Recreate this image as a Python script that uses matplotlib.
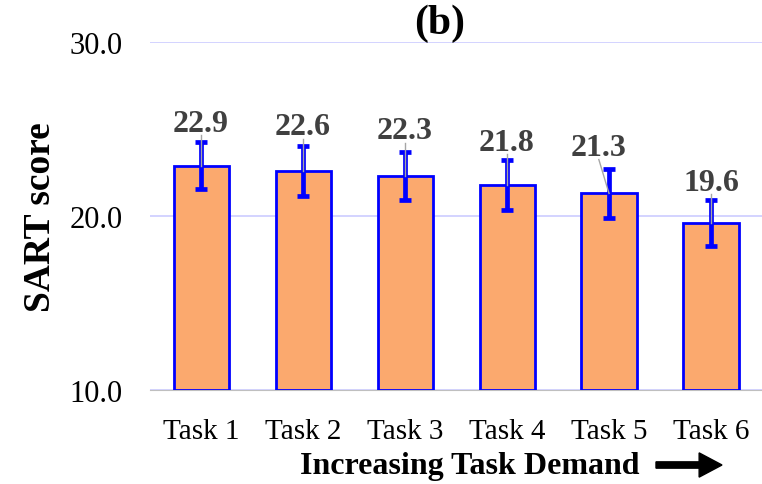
import numpy as np
import matplotlib.pyplot as plt

tasks = ["Task 1", "Task 2", "Task 3", "Task 4", "Task 5", "Task 6"]
sart = [22.9, 22.6, 22.3, 21.8, 21.3, 19.6]
err = [1.35, 1.45, 1.4, 1.45, 1.4, 1.3]

# label placement (data units above bar top, x shift in category units)
lab_dy = [2.45, 2.55, 2.6, 2.45, 2.65, 2.35]
lab_dx = [0, 0, 0, 0, -0.1, 0]

plt.rcParams["font.family"] = ["Liberation Serif", "DejaVu Serif"]

fig = plt.figure(figsize=(7.62, 4.85), dpi=100)
ax = fig.add_axes([0.197, 0.194, 0.803, 0.717])

x = np.arange(len(tasks))
ax.bar(x, np.array(sart) - 10, bottom=10, width=0.54, color="#FBA96E",
       edgecolor="#0000FF", linewidth=2, zorder=2)
ax.errorbar(x, sart, yerr=err, fmt="none", ecolor="#0000FF", elinewidth=3.4,
            capsize=4.5, capthick=3.4, zorder=3)

for i, v in enumerate(sart):
    lx = x[i] + lab_dx[i]
    ly = v + lab_dy[i]
    ax.plot([lx, x[i]], [ly - 0.7, v], color="#A6A6A6", lw=1, zorder=4)
    ax.text(lx, ly, f"{v:.1f}", ha="center", va="center", fontsize=23,
            fontweight="bold", color="#404040", zorder=5)

ax.set_xlim(-0.5, 5.5)
ax.set_ylim(10, 30)
ax.set_yticks([10, 20, 30])
ax.set_yticklabels(["10.0", "20.0", "30.0"])
ax.set_xticks(x)
ax.set_xticklabels(tasks)
ax.tick_params(axis="both", length=0, colors="black")
ax.tick_params(axis="y", pad=20, labelsize=22)
ax.tick_params(axis="x", pad=20, labelsize=21)
ax.yaxis.grid(True, color="#CCCCFF", lw=1.2, zorder=0)
ax.set_axisbelow(True)
for s in ["top", "right", "left"]:
    ax.spines[s].set_visible(False)
ax.spines["bottom"].set_color("#BFBFBF")
ax.spines["bottom"].set_zorder(1)

ax.set_ylabel("SART score", fontsize=27, fontweight="bold", labelpad=8)
fig.text(440 / 762, 1 - 24 / 485, "(b)", ha="center", va="center",
         fontsize=30, fontweight="bold")
fig.text(470 / 762, 1 - 467 / 485, "Increasing Task Demand", ha="center",
         va="center", fontsize=23, fontweight="bold")
fig.patches.append(plt.matplotlib.patches.FancyArrow(
    656 / 762, 1 - 466 / 485, 66 / 762, 0, width=0.013, head_width=0.05,
    head_length=0.03, length_includes_head=True, color="black",
    transform=fig.transFigure, figure=fig))

fig.savefig("out.png", dpi=100)
